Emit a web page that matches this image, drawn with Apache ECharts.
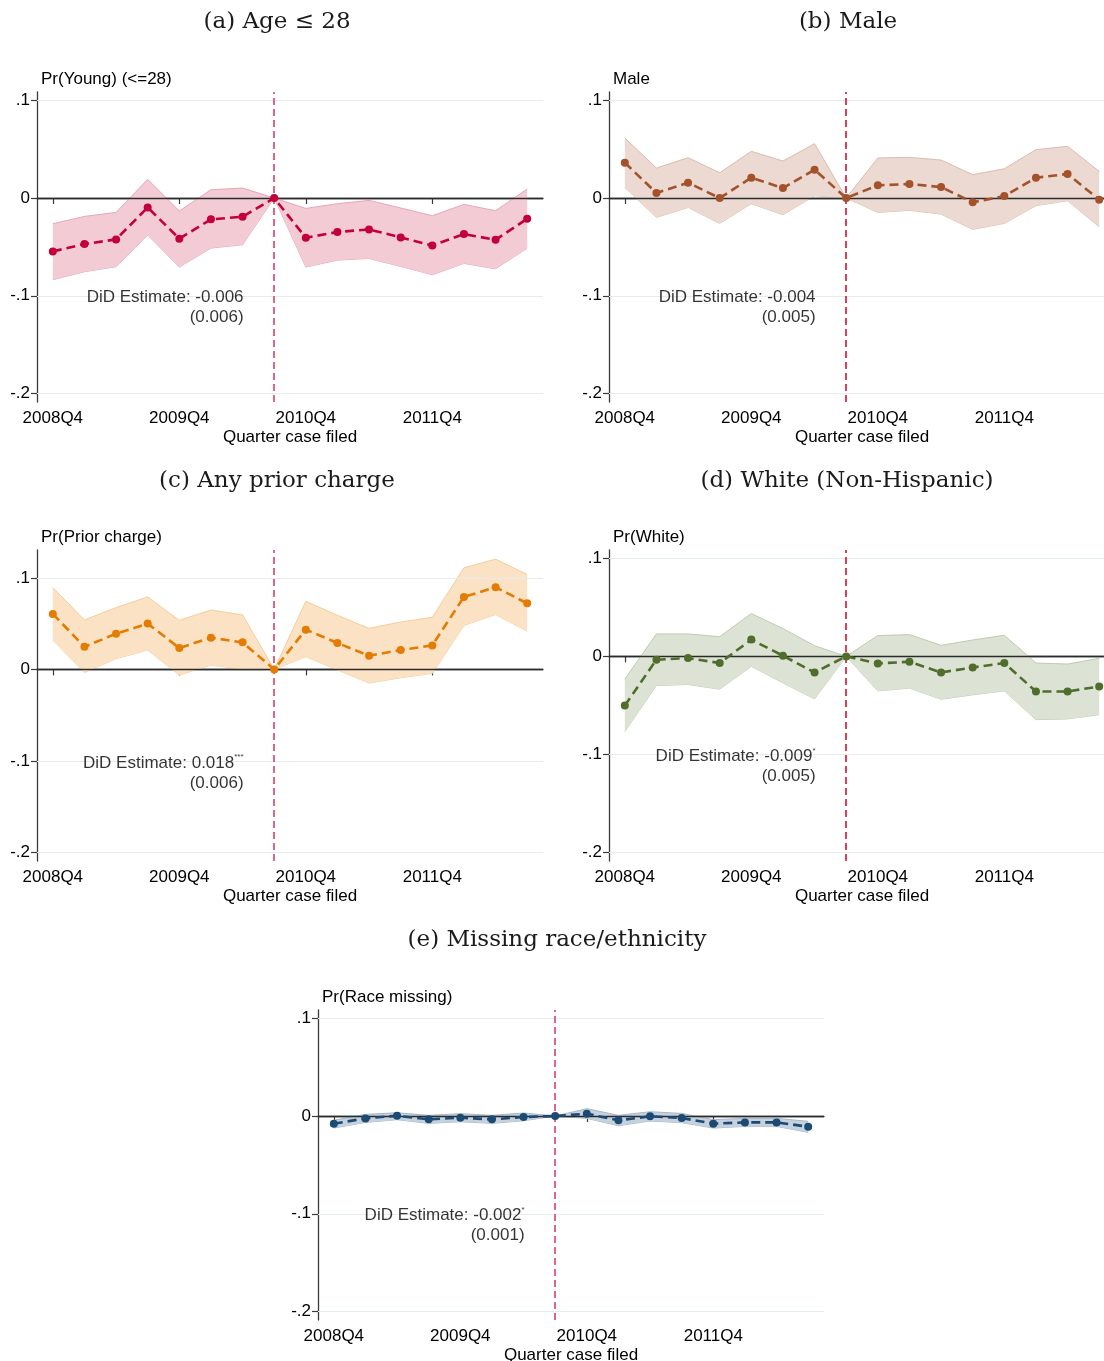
<!DOCTYPE html>
<html><head><meta charset="utf-8">
<script src="https://cdn.jsdelivr.net/npm/echarts@6/dist/echarts.min.js"></script>
<style>html,body{margin:0;padding:0;background:#fff}#c{width:1104px;height:1361px}</style>
</head><body><div id="c"></div>
<script>
// ---------------- DATA ----------------
const quarters = ['2008Q4','2009Q1','2009Q2','2009Q3','2009Q4','2010Q1','2010Q2','2010Q3',
                  '2010Q4','2011Q1','2011Q2','2011Q3','2011Q4','2012Q1','2012Q2','2012Q3'];
const xTickLabels = ['2008Q4','2009Q4','2010Q4','2011Q4'];
const yTickValues = [-0.2, -0.1, 0, 0.1];
const yTickLabels = ['-.2', '-.1', '0', '.1'];
const eventQuarter = '2010Q3';
const didQuarter = '2010Q2';
const didY = -0.1;

const panelTitles = ['(a) Age \u2264 28', '(b) Male', '(c) Any prior charge', '(d) White (Non-Hispanic)', '(e) Missing race/ethnicity'];
const yAxisTitles = ['Pr(Young) (<=28)', 'Male', 'Pr(Prior charge)', 'Pr(White)', 'Pr(Race missing)'];
const xAxisTitle = 'Quarter case filed';
const didEstimates = ['DiD Estimate: -0.006', 'DiD Estimate: -0.004', 'DiD Estimate: 0.018', 'DiD Estimate: -0.009', 'DiD Estimate: -0.002'];
const didStars = ['', '', '***', '*', '*'];
const didSE = ['(0.006)', '(0.005)', '(0.006)', '(0.005)', '(0.001)'];

const youngEst = [-0.0546,-0.0471,-0.0423,-0.0096,-0.0416,-0.0218,-0.0191,0,-0.0406,-0.0348,-0.0321,-0.0403,-0.0485,-0.0369,-0.0427,-0.0212];
const youngHi  = [-0.0263,-0.0188,-0.0147,0.0191,-0.0133,0.0085,0.0102,0,-0.0106,-0.0058,-0.0024,-0.0102,-0.0181,-0.0065,-0.0130,0.0092];
const youngLo  = [-0.0836,-0.0754,-0.0703,-0.0379,-0.0706,-0.0512,-0.0478,0,-0.0706,-0.0635,-0.0618,-0.0700,-0.0785,-0.0669,-0.0724,-0.0512];

const maleEst = [0.0362,0.0051,0.0157,0.0000,0.0208,0.0102,0.0290,0,0.0130,0.0143,0.0113,-0.0044,0.0020,0.0208,0.0246,-0.0017];
const maleHi  = [0.0614,0.0307,0.0413,0.0259,0.0478,0.0379,0.0556,0,0.0410,0.0416,0.0389,0.0239,0.0300,0.0495,0.0529,0.0273];
const maleLo  = [0.0109,-0.0198,-0.0096,-0.0259,-0.0058,-0.0171,0.0024,0,-0.0147,-0.0126,-0.0164,-0.0321,-0.0259,-0.0078,-0.0027,-0.0294];

const priorEst = [0.0607,0.0248,0.0391,0.0501,0.0234,0.0347,0.0296,0,0.0435,0.0289,0.0150,0.0212,0.0263,0.0793,0.0899,0.0723];
const priorHi  = [0.0895,0.0541,0.0676,0.0793,0.0537,0.0650,0.0596,0,0.0745,0.0592,0.0449,0.0519,0.0570,0.1111,0.1206,0.1038];
const priorLo  = [0.0322,-0.0033,0.0117,0.0212,-0.0062,0.0047,0.0003,0,0.0139,-0.0005,-0.0150,-0.0091,-0.0044,0.0482,0.0599,0.0420];

const whiteEst = [-0.0502,-0.0034,-0.0017,-0.0068,0.0171,0.0007,-0.0164,0,-0.0072,-0.0055,-0.0164,-0.0113,-0.0068,-0.0358,-0.0358,-0.0307];
const whiteHi  = [-0.0232,0.0229,0.0229,0.0201,0.0437,0.0283,0.0109,0,0.0212,0.0222,0.0113,0.0167,0.0215,-0.0068,-0.0078,-0.0020];
const whiteLo  = [-0.0765,-0.0297,-0.0287,-0.0334,-0.0102,-0.0270,-0.0433,0,-0.0352,-0.0324,-0.0437,-0.0392,-0.0352,-0.0645,-0.0638,-0.0594];

const raceEst = [-0.0078,-0.0024,0.0003,-0.0034,-0.0017,-0.0034,-0.0010,0,0.0024,-0.0044,-0.0003,-0.0020,-0.0078,-0.0065,-0.0065,-0.0109];
const raceHi  = [-0.0044,0.0017,0.0034,0.0007,0.0024,0.0007,0.0031,0,0.0075,0.0007,0.0044,0.0027,-0.0037,-0.0024,-0.0024,-0.0054];
const raceLo  = [-0.0123,-0.0065,-0.0037,-0.0075,-0.0058,-0.0075,-0.0048,0,-0.0024,-0.0099,-0.0051,-0.0068,-0.0123,-0.0106,-0.0106,-0.0167];

// ---------------- LAYOUT / STYLE ----------------
const SANS = '"Liberation Sans", Arial, Helvetica, sans-serif';
const SERIF = '"DejaVu Serif", "Liberation Serif", serif';
const FS = 17;
const TXT = '#000';

const panels = [
  {est: youngEst, hi: youngHi, lo: youngLo, left: 37,  top: 92,   height: 310, titleX: 277, titleY: 22,  ymin: -0.2087, ymax: 0.1085,
   main: '#c4003b', fill: '#f2cbd5', edge: '#e8a6b7', vline: '#d9406a'},
  {est: maleEst, hi: maleHi, lo: maleLo,    left: 609, top: 92,   height: 310, titleX: 848, titleY: 22,  ymin: -0.2087, ymax: 0.1085,
   main: '#a3522b', fill: '#ebd9d2', edge: '#dbbcae', vline: '#d8102e'},
  {est: priorEst, hi: priorHi, lo: priorLo, left: 37,  top: 550,  height: 311, titleX: 277, titleY: 481, ymin: -0.2095, ymax: 0.1306,
   main: '#e37c00', fill: '#fbe2c5', edge: '#f6cd98', vline: '#d9406a'},
  {est: whiteEst, hi: whiteHi, lo: whiteLo, left: 609, top: 550,  height: 311, titleX: 847, titleY: 481, ymin: -0.2087, ymax: 0.1085,
   main: '#4f6e2b', fill: '#dde3d4', edge: '#bfcbb0', vline: '#d8102e'},
  {est: raceEst, hi: raceHi, lo: raceLo,    left: 318, top: 1010, height: 310, titleX: 557, titleY: 940, ymin: -0.2087, ymax: 0.1085,
   main: '#1b4a73', fill: '#c5d1dd', edge: '#a5b7c9', vline: '#d9406a'}
];
const PW = 506;
const CW = 1104;

const grid = [], xAxis = [], yAxis = [], series = [], graphic = [];
const showX = (i, v) => xTickLabels.indexOf(v) >= 0;

panels.forEach((p, k) => {
  grid.push({left: p.left, top: p.top, right: CW - p.left - PW, height: p.height,
             containLabel: false, outerBoundsMode: 'none'});
  xAxis.push({
    type: 'category', gridIndex: k, data: quarters, boundaryGap: true,
    axisLine: {show: true, lineStyle: {color: '#3a3a3a', width: 1.3}},
    axisTick: {show: true, alignWithLabel: true, interval: showX, length: 6, lineStyle: {color: '#3a3a3a', width: 1.2}},
    axisLabel: {show: true, interval: showX, margin: 8, color: TXT, fontFamily: SANS, fontSize: FS, hideOverlap: false},
    splitLine: {show: false},
    name: xAxisTitle, nameLocation: 'middle', nameGap: 27,
    nameTextStyle: {color: TXT, fontFamily: SANS, fontSize: FS}
  });
  yAxis.push({
    type: 'value', gridIndex: k, min: p.ymin, max: p.ymax,
    axisLine: {show: true, lineStyle: {color: '#3a3a3a', width: 1.3}},
    axisTick: {show: true, length: 6, customValues: yTickValues, lineStyle: {color: '#3a3a3a', width: 1.2}},
    axisLabel: {show: true, customValues: yTickValues, margin: 7, color: TXT, fontFamily: SANS, fontSize: FS,
      formatter: v => { const j = yTickValues.findIndex(t => Math.abs(t - v) < 1e-9); return j >= 0 ? yTickLabels[j] : ''; }},
    splitLine: {show: false}
  });
  const sid = 'band' + k;
  series.push({
    type: 'line', xAxisIndex: k, yAxisIndex: k, data: p.lo, stack: sid, stackStrategy: 'all',
    symbol: 'none', lineStyle: {color: p.edge, width: 1}, z: 2, silent: true, animation: false,
    markLine: {
      silent: true, symbol: 'none', animation: false, label: {show: false},
      data: yTickValues.filter(v => v !== 0).map(v => ({yAxis: v, lineStyle: {color: '#e4eded', width: 1, type: 'solid'}}))
    }
  });
  series.push({
    type: 'line', xAxisIndex: k, yAxisIndex: k, data: p.hi.map((h, i) => h - p.lo[i]), stack: sid, stackStrategy: 'all',
    symbol: 'none', lineStyle: {color: p.edge, width: 1}, areaStyle: {color: p.fill, opacity: 1}, z: 3, silent: true, animation: false,
    markLine: {
      silent: true, symbol: 'none', animation: false, label: {show: false},
      data: [
        {yAxis: 0, lineStyle: {color: '#2b2b2b', width: 1.3, type: 'solid'}},
        {xAxis: eventQuarter, lineStyle: {color: p.vline, width: 1.6, type: [7, 4]}}
      ]
    }
  });
  series.push({
    type: 'line', xAxisIndex: k, yAxisIndex: k, data: p.est,
    symbol: 'circle', symbolSize: 8, showSymbol: true,
    itemStyle: {color: p.main}, lineStyle: {color: p.main, width: 2.6, type: [9, 5]},
    z: 5, silent: true, animation: false
  });
  series.push({
    type: 'scatter', xAxisIndex: k, yAxisIndex: k, data: [[didQuarter, didY]], symbolSize: 0, z: 6, silent: true, animation: false,
    label: {
      show: true, position: 'left', distance: 0, offset: [1, 12],
      formatter: '{a|' + didEstimates[k] + '}' + (didStars[k] ? '{s|' + didStars[k] + '}' : '') + '\n{a|' + didSE[k] + '}',
      rich: {
        a: {fontFamily: SANS, fontSize: FS, color: TXT, lineHeight: 20, align: 'right'},
        s: {fontFamily: SANS, fontSize: 8, color: TXT, lineHeight: 20, verticalAlign: 'top', align: 'right'}
      }
    }
  });
  graphic.push({
    type: 'text', left: p.left + 4, top: p.top - 21,
    style: {text: yAxisTitles[k], fontFamily: SANS, fontSize: FS, fill: TXT}
  });
  graphic.push({
    type: 'text', x: p.titleX, y: p.titleY,
    style: {text: panelTitles[k], fontFamily: SERIF, fontSize: 23, fill: '#1a1a1a', align: 'center', verticalAlign: 'middle'}
  });
});

const chart = echarts.init(document.getElementById('c'), null, {renderer: 'canvas', width: 1104, height: 1361});
chart.setOption({
  backgroundColor: '#ffffff',
  animation: false,
  grid, xAxis, yAxis, series, graphic
});
</script>
</body></html>
